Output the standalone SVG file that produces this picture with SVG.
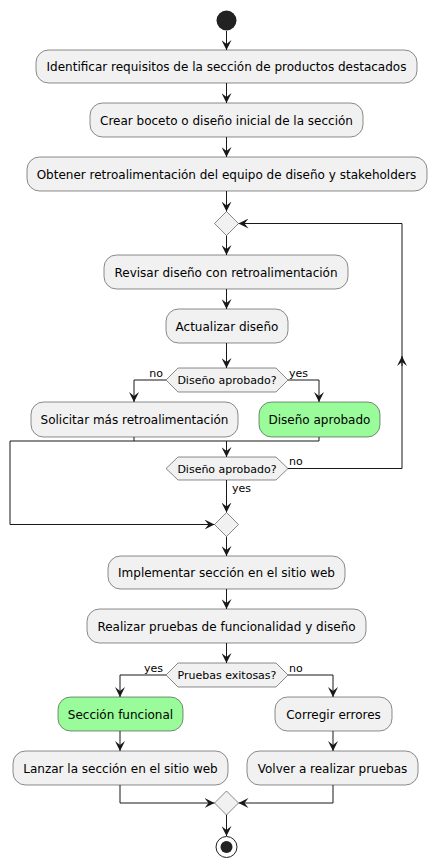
<svg xmlns="http://www.w3.org/2000/svg" width="437" height="867" viewBox="0 0 437 867">
<style>
.box{fill:#F1F1F1;stroke:#181818;stroke-width:0.5}
.green{fill:#99FB99;stroke:#181818;stroke-width:0.5}
.t{font-family:"DejaVu Sans",sans-serif;font-size:12px;fill:#000;text-anchor:middle}
.h{font-family:"DejaVu Sans",sans-serif;font-size:11px;fill:#000;text-anchor:middle}
.l{font-family:"DejaVu Sans",sans-serif;font-size:11px;fill:#000}
.c{fill:none;stroke:#181818;stroke-width:1}
</style>
<defs>
<marker id="ah" viewBox="0 0 10 10" markerUnits="userSpaceOnUse" markerWidth="10" markerHeight="10" refX="10" refY="5" orient="auto">
<path d="M0,0 L10,5 L0,10 L4,5 Z" fill="#181818"/>
</marker>
</defs>
<g id="connectors">
<path class="c" d="M226.5,31 V50" marker-end="url(#ah)"/>
<path class="c" d="M226.5,83 V103" marker-end="url(#ah)"/>
<path class="c" d="M226.5,137 V157" marker-end="url(#ah)"/>
<path class="c" d="M226.5,191 V211.5" marker-end="url(#ah)"/>
<path class="c" d="M226.5,235.5 V255" marker-end="url(#ah)"/>
<path class="c" d="M226.5,289 V309" marker-end="url(#ah)"/>
<path class="c" d="M226.5,343 V368" marker-end="url(#ah)"/>
<path class="c" d="M166,380 H134 V402" marker-end="url(#ah)"/>
<path class="c" d="M288,380 H319 V402" marker-end="url(#ah)"/>
<path class="c" d="M134,437 V441 M319,437 V441 M10,441 H319"/>
<path class="c" d="M226.5,441 V457" marker-end="url(#ah)"/>
<path class="c" d="M288,468.5 H402 V223.5 H238.5" marker-end="url(#ah)"/>
<path class="c" d="M402,366 V356" marker-end="url(#ah)"/>
<path class="c" d="M226.5,480 V512.5" marker-end="url(#ah)"/>
<path class="c" d="M10,441 V524.5 H214.5" marker-end="url(#ah)"/>
<path class="c" d="M226.5,536.5 V556" marker-end="url(#ah)"/>
<path class="c" d="M226.5,589 V609" marker-end="url(#ah)"/>
<path class="c" d="M226.5,643 V663" marker-end="url(#ah)"/>
<path class="c" d="M166,675 H120 V697" marker-end="url(#ah)"/>
<path class="c" d="M288,675 H333 V697" marker-end="url(#ah)"/>
<path class="c" d="M120,731 V751" marker-end="url(#ah)"/>
<path class="c" d="M333,731 V751" marker-end="url(#ah)"/>
<path class="c" d="M120,785 V803 H214.5" marker-end="url(#ah)"/>
<path class="c" d="M333,785 V803 H238.5" marker-end="url(#ah)"/>
<path class="c" d="M226.5,815 V836" marker-end="url(#ah)"/>
<text class="l" x="163" y="377" text-anchor="end">no</text>
<text class="l" x="289" y="377">yes</text>
<text class="l" x="289" y="465">no</text>
<text class="l" x="232" y="492">yes</text>
<text class="l" x="163" y="672" text-anchor="end">yes</text>
<text class="l" x="289" y="672">no</text>
</g>
<g id="start"><circle cx="226.5" cy="20.5" r="10" fill="#222222"/></g>
<g id="n1"><rect class="box" x="36" y="50" width="381" height="33" rx="12.5"/><text class="t" x="226.5" y="71">Identificar requisitos de la sección de productos destacados</text></g>
<g id="n2"><rect class="box" x="90" y="103" width="273" height="34" rx="12.5"/><text class="t" x="226.5" y="124.5">Crear boceto o diseño inicial de la sección</text></g>
<g id="n3"><rect class="box" x="27" y="157" width="400" height="34" rx="12.5"/><text class="t" x="226.5" y="178.5">Obtener retroalimentación del equipo de diseño y stakeholders</text></g>
<g id="d1"><polygon class="box" points="226.5,211.5 238.5,223.5 226.5,235.5 214.5,223.5"/></g>
<g id="n4"><rect class="box" x="104" y="255" width="244" height="34" rx="12.5"/><text class="t" x="226" y="276.5">Revisar diseño con retroalimentación</text></g>
<g id="n5"><rect class="box" x="166" y="309" width="122" height="34" rx="12.5"/><text class="t" x="227" y="330.5">Actualizar diseño</text></g>
<g id="h1"><polygon class="box" points="166,380 178,368 276,368 288,380 276,392 178,392"/><text class="h" x="227" y="384">Diseño aprobado?</text></g>
<g id="n6"><rect class="box" x="31" y="402" width="207" height="35" rx="12.5"/><text class="t" x="134.5" y="424">Solicitar más retroalimentación</text></g>
<g id="n7"><rect class="green" x="259" y="402" width="121" height="35" rx="12.5"/><text class="t" x="319.5" y="424">Diseño aprobado</text></g>
<g id="h2"><polygon class="box" points="166,468.5 178,457 276,457 288,468.5 276,480 178,480"/><text class="h" x="227" y="472.5">Diseño aprobado?</text></g>
<g id="d2"><polygon class="box" points="226.5,512.5 238.5,524.5 226.5,536.5 214.5,524.5"/></g>
<g id="n8"><rect class="box" x="108" y="556" width="237" height="33" rx="12.5"/><text class="t" x="226.5" y="577">Implementar sección en el sitio web</text></g>
<g id="n9"><rect class="box" x="87" y="609" width="279" height="34" rx="12.5"/><text class="t" x="226.5" y="630.5">Realizar pruebas de funcionalidad y diseño</text></g>
<g id="h3"><polygon class="box" points="166,675 178,663 276,663 288,675 276,687 178,687"/><text class="h" x="227" y="679">Pruebas exitosas?</text></g>
<g id="n10"><rect class="green" x="58" y="697" width="125" height="34" rx="12.5"/><text class="t" x="120.5" y="718.5">Sección funcional</text></g>
<g id="n11"><rect class="box" x="275" y="697" width="117" height="34" rx="12.5"/><text class="t" x="333.5" y="718.5">Corregir errores</text></g>
<g id="n12"><rect class="box" x="13" y="751" width="215" height="34" rx="12.5"/><text class="t" x="120.5" y="772.5">Lanzar la sección en el sitio web</text></g>
<g id="n13"><rect class="box" x="247" y="751" width="171" height="34" rx="12.5"/><text class="t" x="332.5" y="772.5">Volver a realizar pruebas</text></g>
<g id="d3"><polygon class="box" points="226.5,791 238.5,803 226.5,815 214.5,803"/></g>
<g id="end"><circle cx="226.5" cy="847" r="10.5" fill="none" stroke="#222222" stroke-width="1"/><circle cx="226.5" cy="847" r="6" fill="#222222"/></g>
</svg>
